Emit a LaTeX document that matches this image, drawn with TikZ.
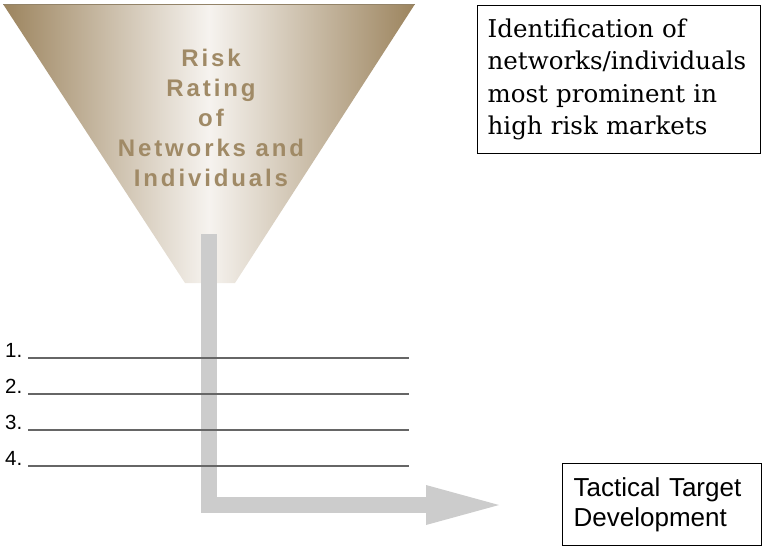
\documentclass[tikz,border=0pt]{standalone}
\usepackage{fontspec}
\setmainfont{DejaVu Serif}
\setsansfont{Liberation Sans}
\newfontfamily\funnelfont[LetterSpace=12]{Liberation Sans}
\usepackage{tikz}
\usetikzlibrary{arrows.meta,positioning,calc}
\usepackage{xcolor}

\definecolor{funneldark}{HTML}{9C845E}
\definecolor{funnellight}{HTML}{F6F3EF}
\definecolor{funneltext}{HTML}{A08A66}
\definecolor{flowgray}{HTML}{CCCCCC}
\definecolor{rulegray}{HTML}{666666}

\begin{document}
\begin{tikzpicture}[x=1pt, y=-1pt,
    funnel/.style={left color=funneldark, right color=funneldark, middle color=funnellight},
    flowarrow/.style={draw=flowgray, line width=16pt, line join=miter,
        -{Triangle[length=73pt, width=40pt, line width'=0pt]}},
    infobox/.style={draw, line width=1.3pt, anchor=north west, align=left},
    numlabel/.style={anchor=base west, inner sep=0pt, font=\sffamily\fontsize{20.5}{24}\selectfont},
    blankline/.style={draw=rulegray, line width=2pt}]
            \useasboundingbox (0,0) rectangle (762,550);

            % Funnel with its title
            \shade[funnel] (3,4) -- (415,4) -- (235,283) -- (185,283) -- cycle;
            \draw[funneldark!70!gray, line width=0.8pt] (3,4.4) -- (415,4.4);
            \node[inner sep=0pt, align=center, text=funneltext,
                font=\funnelfont\bfseries\fontsize{24}{30}\selectfont] (rating) at (211,117.5)
                {Risk\\Rating\\of\\Networks and\\Individuals};

            % Flow out of the funnel
            \coordinate (flow start) at (208.7,234);
            \coordinate (flow end) at (499,505);
            \draw[flowarrow] (flow start) |- (flow end);

            % Numbered blanks
            \foreach \i in {1,...,4} {
                \node[numlabel] (num\i) at (5,{357+36*(\i-1)}) {\i.};
                \draw[blankline] (28,{358+36*(\i-1)}) -- (409,{358+36*(\i-1)});
            }

            % Text boxes
            \node[infobox, text width=263pt, minimum height=148pt, inner xsep=10pt,
                font=\fontsize{24.5}{32.5}\selectfont] (prominent) at (477,5)
                {Identification of\\networks/individuals\\most prominent in\\high risk markets};
            \node[infobox, text width=177pt, minimum height=82pt, inner xsep=11pt,
                font=\sffamily\fontsize{26}{30}\selectfont] (tactical) at (562,463)
                {Tactical Target\\Development};
        \end{tikzpicture}
\end{document}
